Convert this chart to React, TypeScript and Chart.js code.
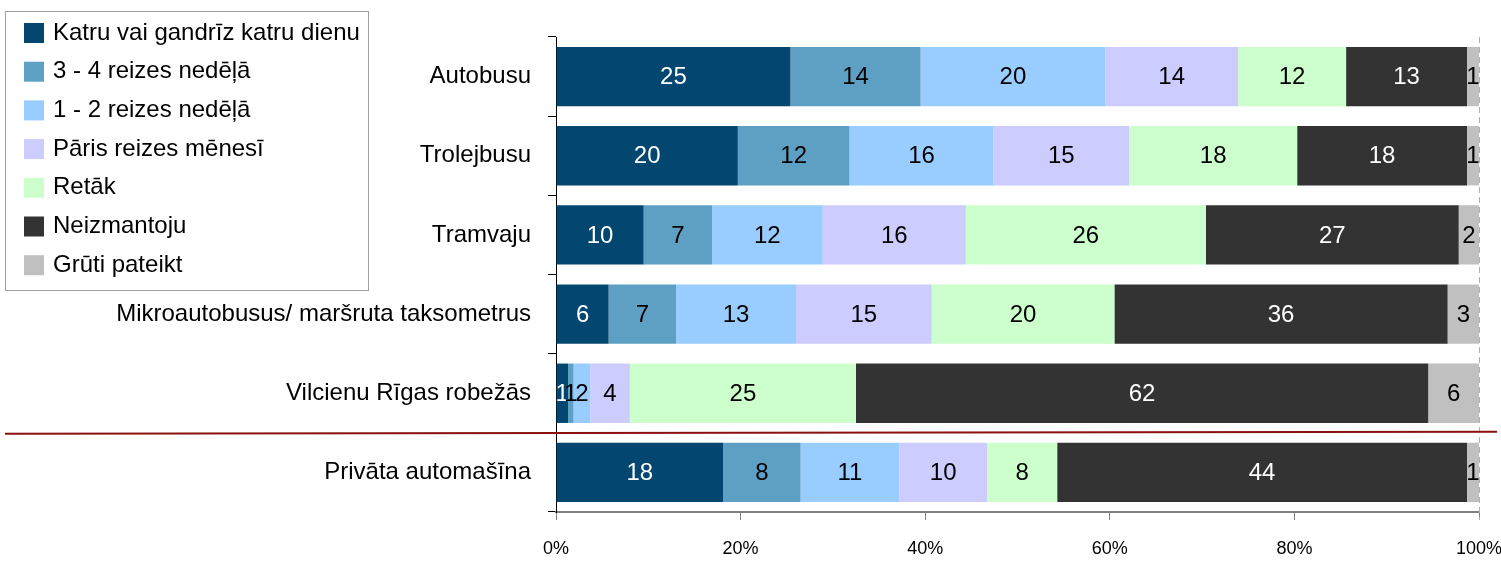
import React, { useEffect, useRef } from 'react';
import { Chart, registerables } from 'chart.js';
Chart.register(...registerables);

const categories = [
  'Autobusu',
  'Trolejbusu',
  'Tramvaju',
  'Mikroautobusus/ maršruta taksometrus',
  'Vilcienu Rīgas robežās',
  'Privāta automašīna',
];
const seriesNames = [
  'Katru vai gandrīz katru dienu',
  '3 - 4 reizes nedēļā',
  '1 - 2 reizes nedēļā',
  'Pāris reizes mēnesī',
  'Retāk',
  'Neizmantoju',
  'Grūti pateikt',
];
const daily = [25.4, 19.7, 9.5, 5.7, 1.3, 18.1];
const weekly34 = [14.1, 12.1, 7.4, 7.3, 0.6, 8.4];
const weekly12 = [20.0, 15.6, 12.0, 13.0, 1.8, 10.7];
const monthly = [14.4, 14.7, 15.5, 14.7, 4.3, 9.5];
const rarer = [11.7, 18.2, 26.0, 19.8, 24.5, 7.6];
const notUsed = [13.1, 18.4, 27.4, 36.1, 62.0, 44.4];
const hardToSay = [1.3, 1.3, 2.2, 3.4, 5.5, 1.3];
const xTickValues = [0, 20, 40, 60, 80, 100];

const colors = ['#03466F', '#5DA0C4', '#99CCFF', '#CCCCFF', '#CCFFCC', '#333333', '#C0C0C0'];
const labelColors = ['#FFFFFF', '#000000', '#000000', '#000000', '#000000', '#FFFFFF', '#000000'];
const FONT = "'Liberation Sans', Arial, sans-serif";

const dataLabelPlugin = {
  id: 'dataLabels',
  afterDatasetsDraw(chart: any) {
    const ctx = chart.ctx;
    ctx.save();
    ctx.font = `24px ${FONT}`;
    ctx.textAlign = 'center';
    ctx.textBaseline = 'middle';
    chart.data.datasets.forEach((ds: any, di: number) => {
      const meta = chart.getDatasetMeta(di);
      meta.data.forEach((bar: any, i: number) => {
        const v = ds.data[i];
        const cx = (bar.x + bar.base) / 2;
        ctx.fillStyle = labelColors[di];
        ctx.fillText(String(Math.round(v)), cx, bar.y + 1);
      });
    });
    ctx.restore();
  },
};

const decorPlugin = {
  id: 'decor',
  afterDraw(chart: any) {
    const ctx = chart.ctx;
    const { chartArea } = chart;
    const y = chart.scales.y;
    const x = chart.scales.x;
    ctx.save();
    // dashed right border
    ctx.strokeStyle = '#B0B0B0';
    ctx.lineWidth = 1;
    ctx.setLineDash([6, 4]);
    ctx.beginPath();
    const xr = Math.round(x.getPixelForValue(100)) + 0.5;
    ctx.moveTo(xr, chartArea.top);
    ctx.lineTo(xr, chartArea.bottom + 8);
    ctx.stroke();
    ctx.setLineDash([]);
    // red separator line
    const sepY = (y.getPixelForValue(4) + y.getPixelForValue(5)) / 2;
    ctx.strokeStyle = '#8B1010';
    ctx.lineWidth = 2;
    ctx.beginPath();
    ctx.moveTo(5, sepY + 1);
    ctx.lineTo(chart.width - 4, sepY - 1);
    ctx.stroke();
    // legend box
    ctx.fillStyle = '#FFFFFF';
    ctx.fillRect(5, 11, 363, 279);
    ctx.strokeStyle = '#A0A0A0';
    ctx.lineWidth = 1;
    ctx.strokeRect(5.5, 11.5, 363, 279);
    ctx.font = `24px ${FONT}`;
    ctx.textAlign = 'left';
    ctx.textBaseline = 'middle';
    seriesNames.forEach((name, i) => {
      const cy = 33 + i * 38.7;
      ctx.fillStyle = colors[i];
      ctx.fillRect(24, cy - 10, 20, 20);
      ctx.fillStyle = '#000000';
      ctx.fillText(name, 53, cy);
    });
    ctx.restore();
  },
};

export default function App() {
  const ref = useRef<HTMLCanvasElement>(null);
  useEffect(() => {
    document.body.style.margin = '0';
    const seriesData = [daily, weekly34, weekly12, monthly, rarer, notUsed, hardToSay];
    const chart = new Chart(ref.current!, {
      type: 'bar',
      data: {
        labels: categories,
        datasets: seriesData.map((d, i) => ({
          label: seriesNames[i],
          data: d,
          backgroundColor: colors[i],
          borderWidth: 0,
          barPercentage: 0.75,
          categoryPercentage: 1,
        })),
      },
      options: {
        indexAxis: 'y',
        animation: false,
        responsive: false,
        layout: { padding: { top: 37, right: 22, left: 0, bottom: 0 } },
        plugins: { legend: { display: false }, tooltip: { enabled: false } },
        scales: {
          x: {
            stacked: true,
            min: 0,
            max: 100,
            afterBuildTicks: (s: any) => {
              s.ticks = xTickValues.map((v) => ({ value: v }));
            },
            ticks: {
              callback: (v: any) => v + '%',
              font: { family: FONT, size: 18 },
              color: '#000000',
              padding: 18,
              maxRotation: 0,
            },
            grid: { drawOnChartArea: false, tickLength: 8, color: '#808080', lineWidth: 1 },
            border: { color: '#808080', width: 2 },
            afterFit: (s: any) => {
              s.height = 50;
              s.paddingRight = 0;
              s.paddingLeft = 0;
            },
          },
          y: {
            stacked: true,
            ticks: {
              font: { family: FONT, size: 24 },
              color: '#000000',
              padding: 17,
            },
            grid: { drawOnChartArea: false, offset: true, tickLength: 8, color: '#000000', lineWidth: 1 },
            border: { color: '#000000', width: 1 },
            afterFit: (s: any) => {
              s.width = 556;
            },
          },
        },
      },
      plugins: [dataLabelPlugin, decorPlugin],
    });
    return () => chart.destroy();
  }, []);
  return <canvas ref={ref} width={1501} height={562} style={{ display: 'block' }} />;
}
